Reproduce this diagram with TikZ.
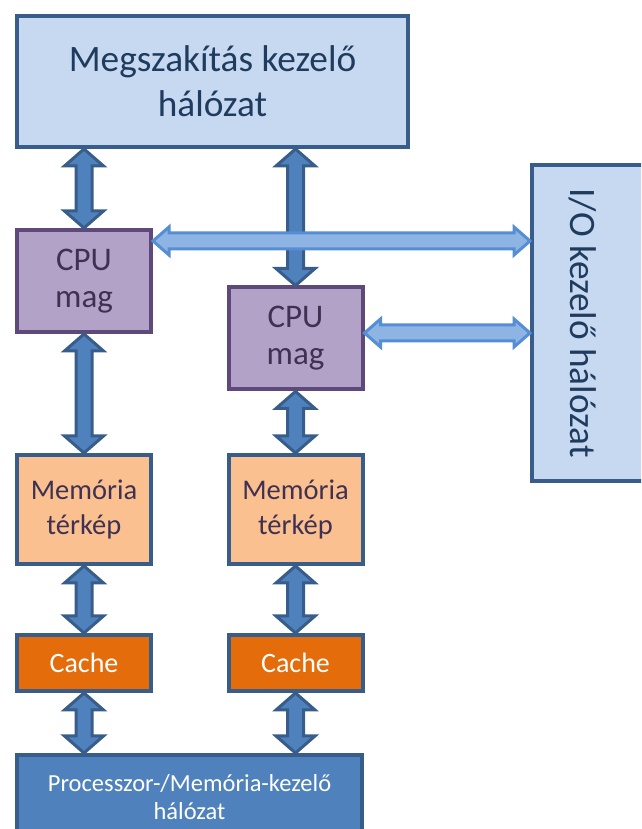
\documentclass[tikz,border=0pt]{standalone}
\usepackage{fontspec}
\setmainfont{Carlito}
\usetikzlibrary{calc}
\definecolor{netfill}{HTML}{C6D9F1}
\definecolor{netline}{HTML}{385D8A}
\definecolor{nettext}{HTML}{1F3B5E}
\definecolor{cpufill}{HTML}{B3A2C7}
\definecolor{cpuline}{HTML}{5F497A}
\definecolor{cputext}{HTML}{3F3151}
\definecolor{memfill}{HTML}{FAC090}
\definecolor{cachefill}{HTML}{E46C0A}
\definecolor{procfill}{HTML}{4F81BD}
\definecolor{iobusfill}{HTML}{8EB4E3}
\definecolor{iobusline}{HTML}{558ED5}
\begin{document}
\begin{tikzpicture}[x=1pt, y=1pt,
   box/.style={draw=netline, line width=4pt, inner sep=0pt, align=center},
   netbox/.style={box, fill=netfill, text=nettext, font=\fontsize{37.3}{45}\selectfont},
   cpubox/.style={box, draw=cpuline, fill=cpufill, text=cputext, font=\fontsize{33}{37}\selectfont,
      minimum width=134, minimum height=102},
   membox/.style={box, fill=memfill, text=cputext, font=\fontsize{28.5}{35}\selectfont,
      minimum width=134, minimum height=109},
   cachebox/.style={box, fill=cachefill, text=white, font=\fontsize{28}{33}\selectfont,
      minimum width=134, minimum height=56},
   procbox/.style={box, fill=procfill, text=white, font=\fontsize{24.5}{28}\selectfont},
   vbus/.style={draw=netline, fill=procfill, line width=3pt,
      to path={let \p1=(\tikztostart), \p2=(\tikztotarget) in
         (\x1,\y1) -- (\x1+19.5pt,\y1-17pt) -- (\x1+8pt,\y1-17pt) -- (\x1+8pt,\y2+17pt)
         -- (\x1+19.5pt,\y2+17pt) -- (\x1,\y2) -- (\x1-19.5pt,\y2+17pt) -- (\x1-8pt,\y2+17pt)
         -- (\x1-8pt,\y1-17pt) -- (\x1-19.5pt,\y1-17pt) -- cycle}},
   hbus/.style={draw=iobusline, fill=iobusfill, line width=3pt,
      to path={let \p1=(\tikztostart), \p2=(\tikztotarget) in
         (\x1,\y1) -- (\x1+16pt,\y1+14pt) -- (\x1+16pt,\y1+8pt) -- (\x2-16pt,\y1+8pt)
         -- (\x2-16pt,\y1+14pt) -- (\x2,\y1) -- (\x2-16pt,\y1-14pt) -- (\x2-16pt,\y1-8pt)
         -- (\x1+16pt,\y1-8pt) -- (\x1+16pt,\y1-14pt) -- cycle}}]
   \useasboundingbox (0,0) rectangle (641,829);
   \clip (0,0) rectangle (641,829);
   % hálózatok
   \node[netbox, minimum width=391, minimum height=131] (irq) at (212.5,747.5) {Megszakítás kezelő\\hálózat};
   \node[netbox, minimum width=118, minimum height=316] (io) at (591,506) {};
   \node[rotate=-90, text=nettext, font=\fontsize{37.3}{45}\selectfont] (iolabel) at (583,506) {I/O kezelő hálózat};
   \node[procbox, minimum width=345, minimum height=84] (proc) at (189.5,32) {Processzor-/Memória-kezelő\\hálózat};
   % két processzor ág
   \node[cpubox] (cpuA) at (84,548) {CPU\\mag};
   \node[cpubox] (cpuB) at (295.5,490.5) {CPU\\mag};
   \node[membox] (memA) at (84,319.5) {Memória\\térkép};
   \node[membox] (memB) at (295.5,319.5) {Memória\\térkép};
   \node[cachebox] (cacheA) at (84,166) {Cache};
   \node[cachebox] (cacheB) at (295.5,166) {Cache};
   % függőleges buszok
   \draw[vbus] (cpuA.north |- irq.south) to (cpuA.north);
   \draw[vbus] (cpuB.north |- irq.south) to (cpuB.north);
   \draw[vbus] (cpuA.south) to (memA.north);
   \draw[vbus] (cpuB.south) to (memB.north);
   \draw[vbus] (memA.south) to (cacheA.north);
   \draw[vbus] (memB.south) to (cacheB.north);
   \draw[vbus] (cacheA.south) to (cacheA.south |- proc.north);
   \draw[vbus] (cacheB.south) to (cacheB.south |- proc.north);
   % I/O buszok
   \coordinate (ioA) at ($(cpuA.east)+(0,40)$);
   \coordinate (ioB) at ($(cpuB.east)+(0,5.5)$);
   \draw[hbus] (ioA) to (ioA -| io.west);
   \draw[hbus] (ioB) to (ioB -| io.west);
\end{tikzpicture}
\end{document}
